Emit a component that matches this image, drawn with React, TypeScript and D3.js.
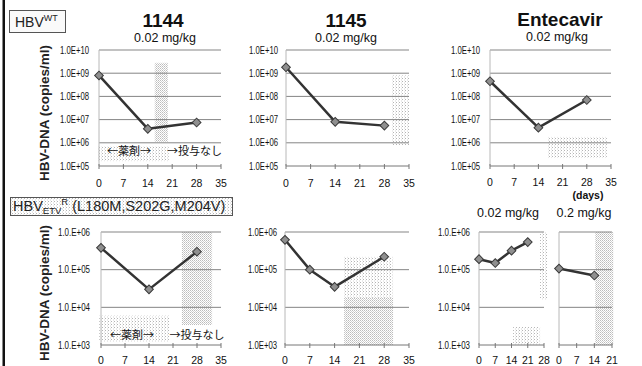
import React from 'react';
import * as d3 from 'd3';

// values (copies/ml)
const wtDays = [0, 14, 28];
const wt1144 = [8.0e8, 4.0e6, 7.5e6];
const wt1145 = [1.8e9, 8.0e6, 5.5e6];
const wtEntecavir = [4.5e8, 4.5e6, 7.0e7];

const etr1144Days = [0, 14, 28];
const etr1144 = [3.8e5, 3.0e4, 3.0e5];
const etr1145Days = [0, 7, 14, 28];
const etr1145 = [6.2e5, 1.0e5, 3.5e4, 2.2e5];
const etrLowDays = [0, 7, 14, 21];
const etrLow = [1.9e5, 1.5e5, 3.2e5, 5.4e5];
const etrHighDays = [0, 14];
const etrHigh = [1.07e5, 7.0e4];

const wtTicks = [1e5, 1e6, 1e7, 1e8, 1e9, 1e10];
const etrTicks = [1e3, 1e4, 1e5, 1e6];
const days35 = [0, 7, 14, 21, 28, 35];
const days28 = [0, 7, 14, 21, 28];
const days21 = [0, 7, 14, 21];

// grey screened areas of the scan: [dayFrom, dayTo, valueTop, valueBottom, dense]
const shade1144 = [[16, 19.8, 2.8e9, 1.1e6, 1], [-0.5, 20, 7e5, 1.6e5, 0]];
const shade1145 = [[30.2, 35, 8e8, 8e5, 0]];
const shadeEtv = [[16.8, 33.8, 1.8e6, 2.2e5, 0]];
const shadeR1144 = [[23.6, 32.4, 1e6, 3.4e3, 1], [-0.5, 20, 6e3, 1.2e3, 0]];
const shadeR1145 = [[16.7, 30.5, 2.2e5, 1.8e4, 0], [16.7, 30.5, 1.8e4, 1e3, 1]];
const shadeRLow = [[26.3, 29.3, 1e6, 1.6e4, 0], [14.7, 26.3, 3e3, 1e3, 0]];
const shadeRHigh = [[14.3, 21.5, 1e6, 1e3, 1]];

const fmt = (v: number, dot: boolean) =>
  `1.0${dot ? '.' : ''}E+${String(Math.round(Math.log10(v))).padStart(2, '0')}`;

const tickFont = '"Liberation Sans", Arial, sans-serif';

function Panel(props: any) {
  const { left, right, top, bottom, dayTicks, valTicks, dot, gap, xs, ys, shades, labelY, anno, noYLabels } = props;
  const x = d3.scaleLinear().domain([0, dayTicks[dayTicks.length - 1]]).range([left, right]);
  const y = d3.scaleLog().domain([valTicks[0], valTicks[valTicks.length - 1]]).range([bottom, top]);
  const line = d3.line<number>().x((d, i) => x(xs[i])).y((d) => y(d));
  const marker = d3.symbol().type(d3.symbolSquare).size(38)();

  return (
    <g>
      {shades.map((s: number[], i: number) => (
        <rect key={'s' + i} x={x(s[0])} y={y(s[2])} width={x(s[1]) - x(s[0])} height={y(s[3]) - y(s[2])}
          fill={s[4] ? 'url(#dotsDense)' : 'url(#dotsLight)'} />
      ))}
      {valTicks.map((v: number) => (
        <g key={v}>
          <line x1={left} x2={right} y1={y(v)} y2={y(v)} stroke={v === valTicks[0] ? '#777' : '#858585'} strokeWidth={1} />
          {!noYLabels && (
            <text x={left - gap} y={y(v) + 3.5} textAnchor="end" fontSize={10} fontFamily={tickFont} fill="#111"
              textLength={dot ? 32 : 29} lengthAdjust="spacingAndGlyphs">
              {fmt(v, dot)}
            </text>
          )}
        </g>
      ))}
      <line x1={left} x2={left} y1={top} y2={bottom} stroke="#b8b8b8" strokeWidth={1} />
      {dayTicks.map((d: number) => (
        <g key={d}>
          <line x1={x(d)} x2={x(d)} y1={bottom - 2} y2={bottom + 3} stroke="#777" strokeWidth={1} />
          <text x={x(d)} y={labelY} textAnchor="middle" fontSize={10.5} fontFamily={tickFont} fill="#111">{d}</text>
        </g>
      ))}
      {anno && (
        <g fontFamily='"Noto Sans CJK JP", sans-serif' fontSize={11} fill="#111">
          <text x={x(anno[0])} y={y(anno[2])}>←薬剤→</text>
          <text x={x(anno[1])} y={y(anno[2])}>→投与なし</text>
        </g>
      )}
      <path d={line(ys) || ''} fill="none" stroke="#333" strokeWidth={2.5} strokeLinejoin="round" />
      {ys.map((v: number, i: number) => (
        <path key={'m' + i} d={marker || ''} transform={`translate(${x(xs[i])},${y(v)}) rotate(45)`}
          fill="#8f8f8f" stroke="#3a3a3a" strokeWidth={1} />
      ))}
    </g>
  );
}

export default function App() {
  const sans = '"Liberation Sans", Arial, sans-serif';
  return (
    <svg width={642} height={366} style={{ position: 'absolute', left: 0, top: 0, background: '#fff' }}
      fontFamily={sans}>
      <defs>
        <pattern id="dotsLight" width={3} height={3} patternUnits="userSpaceOnUse">
          <rect width={1} height={1} fill="#b4b4b4" />
          <rect x={2} y={1.5} width={1} height={1} fill="#d6d6d6" />
        </pattern>
        <pattern id="dotsDense" width={2} height={2} patternUnits="userSpaceOnUse">
          <rect width={1} height={1} fill="#bcbcbc" />
          <rect x={1} y={1} width={1} height={1} fill="#d2d2d2" />
        </pattern>
      </defs>
      <rect x={0} y={0} width={642} height={366} fill="#fff" />
      <rect x={2.5} y={0} width={2.5} height={366} fill="#111" />

      {/* row labels */}
      <rect x={9.5} y={10.5} width={56} height={22} fill="#fafafa" stroke="#555" strokeWidth={1} />
      <text x={15} y={27} fontSize={14} fill="#222">HBV<tspan fontSize={9} dy={-6}>WT</tspan></text>

      <rect x={10.5} y={197.5} width={222} height={18} fill="url(#dotsLight)" stroke="#555" strokeWidth={1} />
      <text x={13} y={211} fontSize={14.5} fill="#222">
        HBV<tspan fontSize={9.5} dy={3}>ETV</tspan><tspan fontSize={9.5} dy={-9}>R</tspan>
        <tspan dy={6}> (L180M,S202G,M204V)</tspan>
      </text>

      <text transform="translate(49,113) rotate(-90)" textAnchor="middle" fontSize={13.5} fontWeight="bold" fill="#222">
        HBV-DNA (copies/ml)
      </text>
      <text transform="translate(49,293) rotate(-90)" textAnchor="middle" fontSize={13.5} fontWeight="bold" fill="#222">
        HBV-DNA (copies/ml)
      </text>

      {/* titles */}
      <g textAnchor="middle" fill="#111">
        <text x={163} y={27} fontSize={19} fontWeight="bold">1144</text>
        <text x={165} y={42} fontSize={12.5}>0.02 mg/kg</text>
        <text x={346} y={27} fontSize={19} fontWeight="bold">1145</text>
        <text x={346} y={42} fontSize={12.5}>0.02 mg/kg</text>
        <text x={560} y={26} fontSize={19} fontWeight="bold">Entecavir</text>
        <text x={557} y={41} fontSize={12.5}>0.02 mg/kg</text>
        <text x={588} y={199} fontSize={10.5} fontWeight="bold">(days)</text>
        <text x={508} y={217} fontSize={12.5}>0.02 mg/kg</text>
        <text x={584} y={217} fontSize={12.5}>0.2 mg/kg</text>
      </g>

      {/* wild type row */}
      <Panel left={99} right={221} top={50} bottom={166} dayTicks={days35} valTicks={wtTicks} dot={false} gap={10}
        xs={wtDays} ys={wt1144} shades={shade1144} labelY={187} anno={[2.3, 19.5, 3.0e5]} />
      <Panel left={286} right={409} top={50} bottom={166} dayTicks={days35} valTicks={wtTicks} dot={false} gap={8}
        xs={wtDays} ys={wt1145} shades={shade1145} labelY={187} />
      <Panel left={490} right={611} top={50} bottom={166} dayTicks={days35} valTicks={wtTicks} dot={false} gap={10}
        xs={wtDays} ys={wtEntecavir} shades={shadeEtv} labelY={186} />

      {/* entecavir-resistant row */}
      <Panel left={101} right={221} top={232} bottom={345} dayTicks={days35} valTicks={etrTicks} dot={true} gap={11}
        xs={etr1144Days} ys={etr1144} shades={shadeR1144} labelY={364} anno={[2.6, 20, 1.4e3]} />
      <Panel left={285} right={409} top={232} bottom={345} dayTicks={days35} valTicks={etrTicks} dot={false} gap={8}
        xs={etr1145Days} ys={etr1145} shades={shadeR1145} labelY={364} />
      <Panel left={479} right={544} top={232} bottom={345} dayTicks={days28} valTicks={etrTicks} dot={true} gap={9}
        xs={etrLowDays} ys={etrLow} shades={shadeRLow} labelY={364} />
      <Panel left={559} right={612} top={232} bottom={345} dayTicks={days21} valTicks={etrTicks} dot={true} gap={0}
        xs={etrHighDays} ys={etrHigh} shades={shadeRHigh} labelY={364} noYLabels={true} />
    </svg>
  );
}
